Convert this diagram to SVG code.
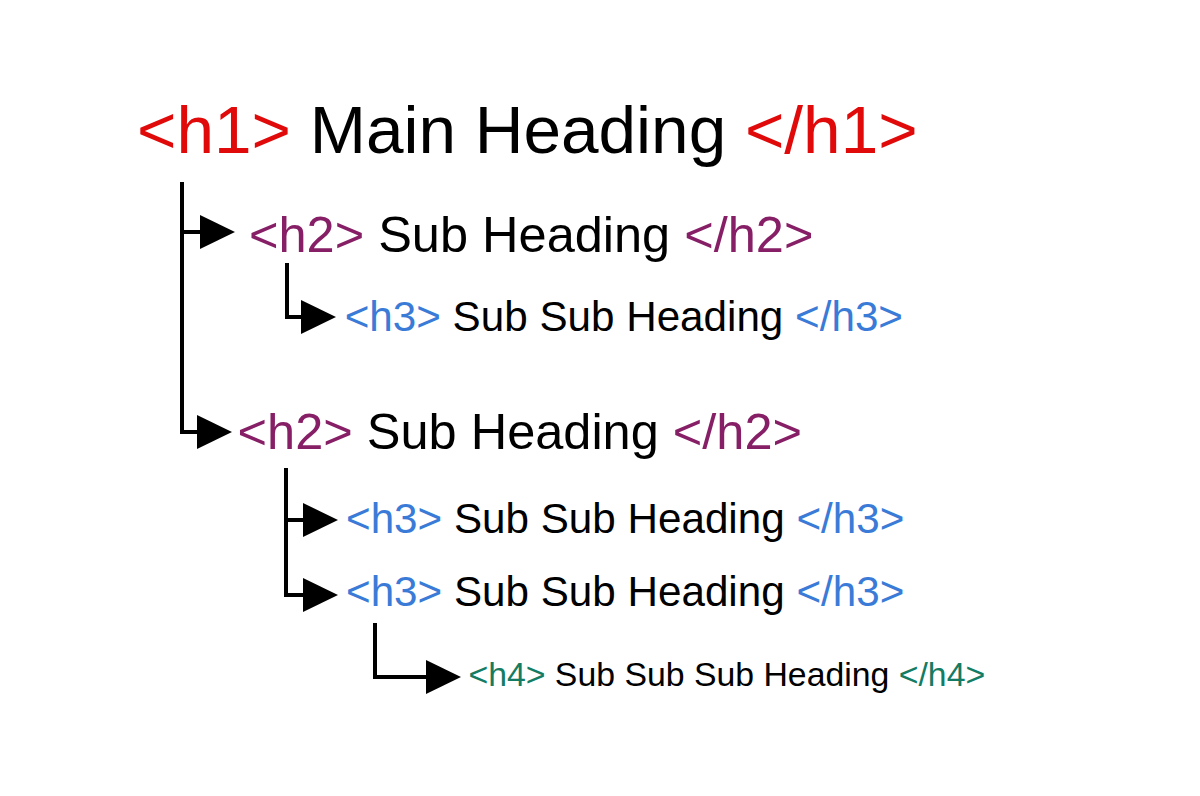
<svg xmlns="http://www.w3.org/2000/svg" width="1200" height="796" viewBox="0 0 1200 796">
  <style>
    text { font-family: "Liberation Sans", Arial, sans-serif; fill: #000; white-space: pre; }
    .t1 { fill: #e00a0a; }
    .t2 { fill: #861f66; }
    .t3 { fill: #3a7bd8; }
    .t4 { fill: #137c63; }
    .conn { fill: none; stroke: #000; stroke-width: 4; stroke-linejoin: miter; marker-end: url(#arrow); }
  </style>
  <defs>
    <marker id="arrow" markerUnits="userSpaceOnUse" markerWidth="35" markerHeight="34" refX="0" refY="17" orient="auto" viewBox="0 0 35 34">
      <path d="M0,0 L35,17 L0,34 Z" fill="#000"/>
    </marker>
  </defs>
  <rect width="1200" height="796" fill="#fff"/>

  <g id="connectors">
    <path class="conn" d="M182,182 V432 H197"/>
    <path class="conn" d="M182,232 H200"/>
    <path class="conn" d="M287,263 V317 H301"/>
    <path class="conn" d="M286,468 V595 H303"/>
    <path class="conn" d="M286,520 H303"/>
    <path class="conn" d="M375,623 V677 H426"/>
  </g>

  <g id="h1-main">
    <text x="137" y="153" font-size="67.5"><tspan class="t1">&lt;h1&gt;</tspan> Main Heading <tspan class="t1">&lt;/h1&gt;</tspan></text>
  </g>
  <g id="h2-a">
    <text x="249" y="252" font-size="50.5"><tspan class="t2">&lt;h2&gt;</tspan> Sub Heading <tspan class="t2">&lt;/h2&gt;</tspan></text>
  </g>
  <g id="h3-a">
    <text x="344.7" y="330.5" font-size="42.2"><tspan class="t3">&lt;h3&gt;</tspan> Sub Sub Heading <tspan class="t3">&lt;/h3&gt;</tspan></text>
  </g>
  <g id="h2-b">
    <text x="237.6" y="448.5" font-size="50.5"><tspan class="t2">&lt;h2&gt;</tspan> Sub Heading <tspan class="t2">&lt;/h2&gt;</tspan></text>
  </g>
  <g id="h3-b">
    <text x="346" y="532.5" font-size="42.2"><tspan class="t3">&lt;h3&gt;</tspan> Sub Sub Heading <tspan class="t3">&lt;/h3&gt;</tspan></text>
  </g>
  <g id="h3-c">
    <text x="346" y="605.5" font-size="42.2"><tspan class="t3">&lt;h3&gt;</tspan> Sub Sub Heading <tspan class="t3">&lt;/h3&gt;</tspan></text>
  </g>
  <g id="h4-a">
    <text x="468.4" y="685.5" font-size="33.8"><tspan class="t4">&lt;h4&gt;</tspan> Sub Sub Sub Heading <tspan class="t4">&lt;/h4&gt;</tspan></text>
  </g>
</svg>
